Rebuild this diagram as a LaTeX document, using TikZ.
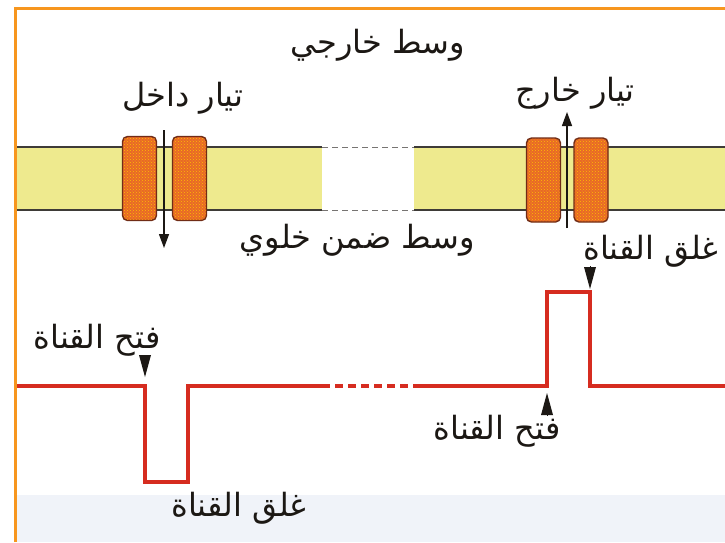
\documentclass[tikz,border=0pt]{standalone}
\usepackage{fontspec}
\newfontfamily\arabicfont[Script=Arabic]{DejaVu Sans}
\TeXXeTstate=1
\usetikzlibrary{arrows.meta,patterns}

\definecolor{frameorange}{RGB}{247,150,30}
\definecolor{membrane}{RGB}{238,234,142}
\definecolor{protein}{RGB}{232,104,40}
\definecolor{proteinedge}{RGB}{112,44,22}
\definecolor{trace}{RGB}{214,44,32}
\definecolor{haze}{RGB}{240,243,249}
\definecolor{ink}{RGB}{28,24,20}

\tikzset{
    lbl/.style={font=\arabicfont\fontsize{32}{36}\selectfont, text=ink, inner sep=1pt},
    protein/.style={draw=proteinedge, line width=1.4pt, fill=protein, rounded corners=5pt,
        minimum width=34pt, minimum height=84pt, inner sep=0pt},
    grain/.style={pattern=crosshatch dots, pattern color=orange!50!yellow},
    wall/.style={draw=ink!85, line width=1.5pt},
    flow/.style={ink, line width=1.3pt, -{Triangle[length=14pt,width=10pt]}},
    marker/.style={ink, line width=0pt, -{Triangle[length=22pt,width=12pt]}},
    current/.style={trace, line width=3.2pt, line join=miter}
}

\begin{document}
\begin{tikzpicture}[x=1pt, y=-1pt]
    % 坐标以像素计, y 向下
    \def\yTop{147}   \def\yBot{210}   % 膜的上下边
    \def\xGapA{322}  \def\xGapB{414}  % 膜中间省略段
    \def\yBase{386}                   % 电流基线

    \useasboundingbox (0,0) rectangle (725,542);
    \fill[white] (0,0) rectangle (725,542);
    \fill[haze] (17,495) rectangle (725,542);

    % 外框
    \draw[frameorange, line width=3pt] (15,542) -- (15,8.5) -- (725,8.5);

    % 细胞膜
    \fill[membrane] (17,\yTop) rectangle (\xGapA,\yBot);
    \fill[membrane] (\xGapB,\yTop) rectangle (725,\yBot);
    \foreach \y in {\yTop,\yBot} {
        \draw[wall] (17,\y) -- (\xGapA,\y);
        \draw[wall, ink!60, line width=1pt, dash pattern=on 6pt off 4pt] (\xGapA,\y) -- (\xGapB,\y);
        \draw[wall] (\xGapB,\y) -- (725,\y);
    }

    % 通道蛋白
    \node[protein] (pA1) at (139.5,178.5) {};
    \node[protein] (pA2) at (189.5,178.5) {};
    \node[protein] (pB1) at (543.5,180) {};
    \node[protein] (pB2) at (591,180) {};
    \foreach \p in {pA1,pA2,pB1,pB2}
        \fill[grain, rounded corners=4pt] ([shift={(1.5pt,1.5pt)}]\p.south west) rectangle ([shift={(-1.5pt,-1.5pt)}]\p.north east);

    % 离子流
    \coordinate (inTop) at (164,130);
    \coordinate (inBot) at (164,248);
    \coordinate (outBot) at (567,228);
    \coordinate (outTop) at (567,112);
    \draw[flow] (inTop) -- (inBot);
    \draw[flow] (outBot) -- (outTop);

    % 文字
    \node[lbl] (outside) at (378,45) {\beginR وسط خارجي\endR};
    \node[lbl] (inflow) at (183,98) {\beginR تيار داخل\endR};
    \node[lbl] (outflow) at (575,93) {\beginR تيار خارج\endR};
    \node[lbl] (cytosol) at (357,240) {\beginR وسط ضمن خلوي\endR};
    \node[lbl] (closeB) at (651,251) {\beginR غلق القناة\endR};
    \node[lbl] (openA) at (97,340) {\beginR فتح القناة\endR};
    \node[lbl] (openB) at (497,431) {\beginR فتح القناة\endR};
    \node[lbl] (closeA) at (239,508) {\beginR غلق القناة\endR};

    % 单通道电流
    \coordinate (a0) at (17,\yBase);
    \coordinate (a1) at (145,\yBase);
    \coordinate (a2) at (145,482);
    \coordinate (a3) at (188,482);
    \coordinate (a4) at (188,\yBase);
    \coordinate (b0) at (547,\yBase);
    \coordinate (b1) at (547,292);
    \coordinate (b2) at (590,292);
    \coordinate (b3) at (590,\yBase);
    \draw[current] (a0) -- (a1) -- (a2) -- (a3) -- (a4) -- (\xGapA,\yBase);
    \draw[current, dash pattern=on 8pt off 5pt] (\xGapA,\yBase) -- (\xGapB,\yBase);
    \draw[current] (\xGapB,\yBase) -- (b0) -- (b1) -- (b2) -- (b3) -- (725,\yBase);

    % 开关标记
    \draw[marker] ([yshift=31pt]a1) -- ([yshift=9pt]a1);
    \draw[marker] ([yshift=26pt]b2) -- ([yshift=3pt]b2);
    \draw[marker] ([yshift=-26pt]b0) -- ([yshift=-7pt]b0);
\end{tikzpicture}
\end{document}
